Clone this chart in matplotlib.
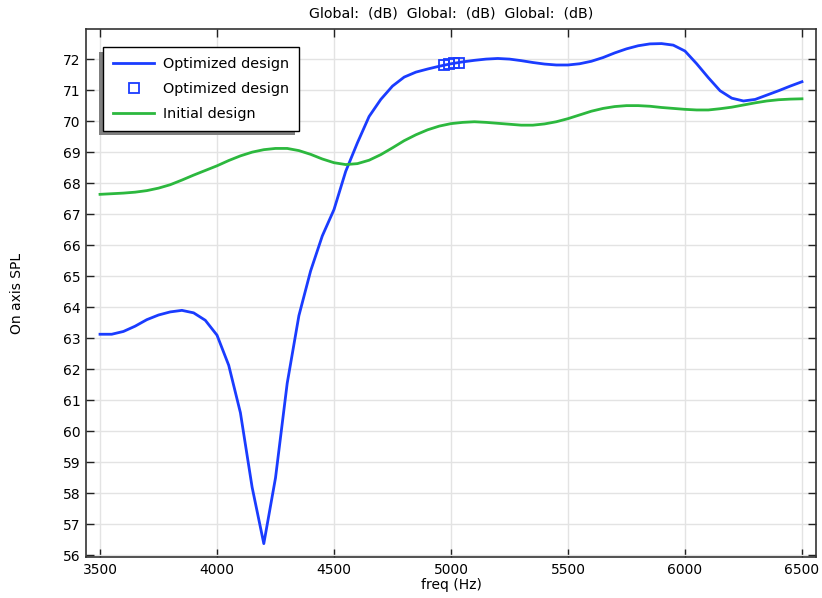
import numpy as np
import matplotlib
matplotlib.use('Agg')
import matplotlib.pyplot as plt
from matplotlib.patches import Rectangle

freq = np.arange(3500, 6501, 50)

optimized = [63.13, 63.13, 63.22, 63.39, 63.6, 63.75, 63.85, 63.9, 63.82, 63.58,
             63.1, 62.13, 60.6, 58.2, 56.38, 58.5, 61.55, 63.73, 65.17, 66.3,
             67.15, 68.38, 69.3, 70.15, 70.7, 71.13, 71.42, 71.58, 71.68, 71.77,
             71.85, 71.91, 71.96, 72.0, 72.02, 72.0, 71.95, 71.89, 71.84, 71.81,
             71.81, 71.85, 71.93, 72.05, 72.2, 72.33, 72.43, 72.49, 72.5, 72.45,
             72.26, 71.85, 71.4, 70.98, 70.74, 70.65, 70.7, 70.84, 70.98, 71.13,
             71.27]

initial = [67.64, 67.66, 67.68, 67.71, 67.76, 67.84, 67.95, 68.1, 68.26, 68.41,
           68.56, 68.73, 68.88, 69.0, 69.08, 69.12, 69.12, 69.05, 68.93, 68.78,
           68.66, 68.6, 68.63, 68.74, 68.92, 69.14, 69.37, 69.56, 69.72, 69.84,
           69.92, 69.96, 69.98, 69.96, 69.93, 69.9, 69.87, 69.87, 69.91, 69.98,
           70.08, 70.2, 70.32, 70.41, 70.47, 70.5, 70.5, 70.48, 70.44, 70.41,
           70.38, 70.36, 70.36, 70.4, 70.45, 70.52, 70.59, 70.65, 70.69, 70.71,
           70.72]

marker_freq = [4970, 4991, 5012, 5033]
marker_spl = [71.8, 71.83, 71.86, 71.88]

blue = '#1a3cff'
green = '#2cb83e'

plt.rcParams['font.family'] = 'DejaVu Sans'
plt.rcParams['font.size'] = 10

fig = plt.figure(figsize=(8.22, 5.98), dpi=100)
ax = fig.add_axes([0.1046, 0.0686, 0.8881, 0.8829])

ax.plot(freq, optimized, color=blue, lw=2.0, label='Optimized design')
ax.plot(marker_freq, marker_spl, ls='none', marker='s', ms=6.5, mfc='none',
        mec=blue, mew=1.3, label='Optimized design')
ax.plot(freq, initial, color=green, lw=2.0, label='Initial design')

ax.set_xlim(3440, 6560)
ax.set_ylim(55.95, 72.97)
ax.set_xticks(range(3500, 6501, 500))
ax.set_yticks(range(56, 73))
ax.grid(True, color='#e3e3e3', lw=1)
ax.set_axisbelow(True)
ax.tick_params(direction='in', length=6, width=1, top=True, right=True,
               colors='#222222', labelcolor='black', pad=4)
for s in ax.spines.values():
    s.set_color('#333333')
    s.set_linewidth(1.2)

ax.set_xlabel('freq (Hz)', labelpad=1)
ax.set_ylabel('On axis SPL', labelpad=28)
ax.set_title('Global:  (dB)  Global:  (dB)  Global:  (dB)', fontsize=10.2, pad=8)

leg = ax.legend(loc='upper left', bbox_to_anchor=(0.0235, 0.9656), frameon=True,
                fancybox=False, edgecolor='black', framealpha=1,
                borderpad=0.68, labelspacing=0.76, handlelength=2.85,
                handletextpad=0.6, borderaxespad=0, fontsize=10.4)
leg.get_frame().set_linewidth(1.0)
leg.set_zorder(5)

# gray shadow, offset down-left
fig.canvas.draw()
bb = leg.get_window_extent().transformed(fig.transFigure.inverted())
shadow = Rectangle((bb.x0 - 4 / 822, bb.y0 - 4.5 / 598), bb.width, bb.height,
                   transform=fig.transFigure, facecolor='#7f7f7f',
                   edgecolor='none', zorder=4)
ax.add_artist(shadow)

fig.savefig('out.png', dpi=100)
